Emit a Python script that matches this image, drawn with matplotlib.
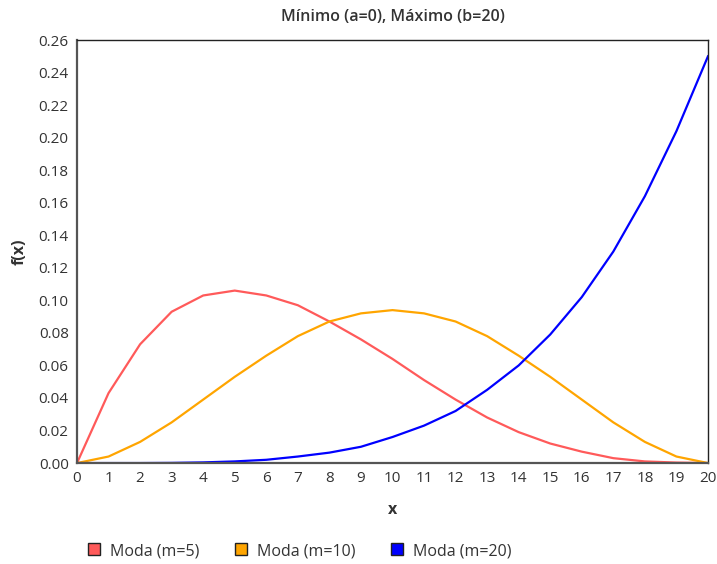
import numpy as np
import matplotlib.pyplot as plt
from matplotlib.lines import Line2D

x = list(range(0, 21))
moda_5 = [0, 0.043, 0.073, 0.093, 0.103, 0.106, 0.103, 0.097, 0.087, 0.076, 0.064,
          0.051, 0.039, 0.028, 0.019, 0.012, 0.007, 0.003, 0.001, 0.0003, 0]
moda_10 = [0, 0.004, 0.013, 0.025, 0.039, 0.053, 0.066, 0.078, 0.087, 0.092, 0.094,
           0.092, 0.087, 0.078, 0.066, 0.053, 0.039, 0.025, 0.013, 0.004, 0]
moda_20 = [0, 0, 0, 0.0001, 0.0004, 0.001, 0.002, 0.004, 0.0064, 0.010, 0.016,
           0.023, 0.032, 0.045, 0.060, 0.079, 0.102, 0.130, 0.164, 0.204, 0.25]
labels = ['Moda (m=5)', 'Moda (m=10)', 'Moda (m=20)']
colors = ['#FF5A5A', '#FFA500', '#0000FF']

plt.rcParams['font.family'] = ['Open Sans', 'DejaVu Sans']
txt = '#333333'

fig = plt.figure(figsize=(7.17, 5.64), dpi=100)
ax = fig.add_axes([0.1074, 0.179, 0.88, 0.750])

for ys, c in zip([moda_5, moda_10, moda_20], colors):
    ax.plot(x, ys, color=c, lw=1.6)

ax.set_xlim(0, 20)
ax.set_ylim(0, 0.26)
ax.set_xticks(x)
ax.set_yticks(np.arange(0, 0.261, 0.02))
ax.yaxis.set_major_formatter(plt.FuncFormatter(lambda v, p: f'{v:.2f}'))
ax.tick_params(length=0, labelsize=11, colors=txt, pad=6)
for s in ['top', 'right']:
    ax.spines[s].set_color('#222222')
    ax.spines[s].set_linewidth(1.0)
for s in ['left', 'bottom']:
    ax.spines[s].set_color('#555555')
    ax.spines[s].set_linewidth(1.6)

ax.set_title('Mínimo (a=0), Máximo (b=20)', fontsize=11.5, color=txt,
             fontweight='semibold', pad=14)
ax.set_xlabel('x', fontsize=11.5, fontweight='bold', color=txt, labelpad=11)
ax.set_ylabel('f(x)', fontsize=11.5, fontweight='bold', color=txt, labelpad=8)

handles = [Line2D([], [], marker='s', ls='', markersize=9, markerfacecolor=c,
                  markeredgecolor='#222222') for c in colors]
fig.legend(handles, labels, loc='center left', bbox_to_anchor=(0.100, 0.023),
           ncol=3, frameon=False, fontsize=11.5, handlelength=1.0,
           handletextpad=0.5, columnspacing=2.1, labelcolor=txt)

fig.savefig('out.png', dpi=100)
